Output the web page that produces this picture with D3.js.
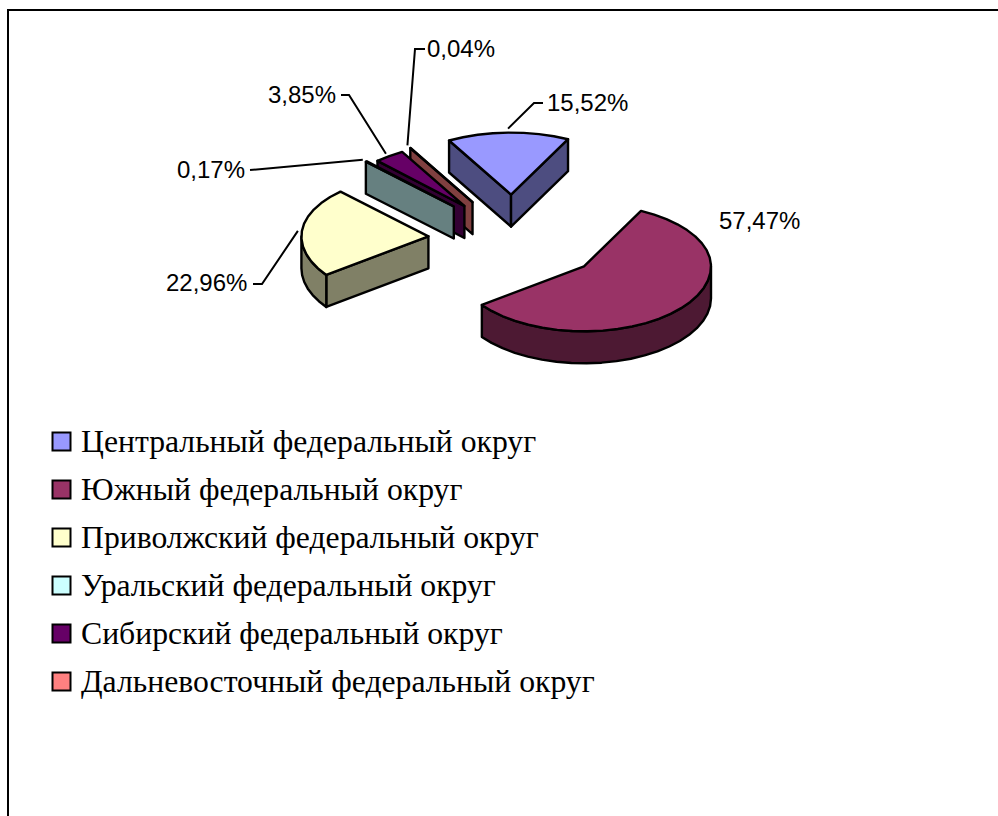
<!DOCTYPE html>
<html>
<head>
<meta charset="utf-8">
<script src="https://cdn.jsdelivr.net/npm/d3@7"></script>
<style>
  html, body { margin: 0; padding: 0; background: #fff; overflow: hidden; }
</style>
</head>
<body>
<svg id="chart" width="998" height="816"></svg>
<script>
const categories = [
    'Центральный федеральный округ',
    'Южный федеральный округ',
    'Приволжский федеральный округ',
    'Уральский федеральный округ',
    'Сибирский федеральный округ',
    'Дальневосточный федеральный округ'
];
const shares = [15.52, 57.47, 22.96, 0.17, 3.85, 0.04];
const shareLabels = ['15,52%', '57,47%', '22,96%', '0,17%', '3,85%', '0,04%'];
const topColors = ['#9999ff', '#993366', '#ffffcc', '#ccffff', '#660066', '#ff8080'];
const sideColors = ['#4d4d80', '#4d1933', '#808066', '#668080', '#330033', '#804040'];

const svg = d3.select('#chart');

// Pie geometry (Excel style tilted pie, exploded)
const center = { x: 514, y: 238 };
const rx = 127, ryFar = 62, ryNear = 65, depth = 32, explode = 0.7;
const firstAngle = -29.2 * Math.PI / 180;
// small corrections for the perspective Excel applies to each exploded slice
const nudge = [[-1, 0], [2, -1], [3, 2], [1, 0], [3, 3], [2, 2]];

const pie = d3.pie().sort(null).startAngle(firstAngle).endAngle(firstAngle + 2 * Math.PI);
const slices = pie(shares);

function project(angle, radius) {
    const c = Math.cos(angle);
    return [rx * radius * Math.sin(angle), -(c > 0 ? ryFar : ryNear) * radius * c];
}

function rimPoints(a0, a1) {
    const n = Math.max(1, Math.ceil((a1 - a0) / (7 * Math.PI / 180)));
    return d3.range(n + 1).map(i => a0 + (a1 - a0) * i / n);
}

const poly = d3.line();

slices.forEach((d, i) => {
    const mid = (d.startAngle + d.endAngle) / 2;
    const off = project(mid, explode);
    d.apex = [center.x + off[0] + nudge[i][0], center.y + off[1] + nudge[i][1]];
    d.mid = mid;
    d.at = (a, dy = 0) => {
        const p = project(a, 1);
        return [d.apex[0] + p[0], d.apex[1] + p[1] + dy];
    };
});

// back to front
const drawOrder = [5, 4, 3, 0, 2, 1];
const pieG = svg.append('g')
    .attr('stroke', '#000')
    .attr('stroke-width', 2.4)
    .attr('stroke-linejoin', 'round');

drawOrder.forEach(i => {
    const d = slices[i];
    const g = pieG.append('g');
    const base = [d.apex[0], d.apex[1] + depth];

    // radial walls, only the ones facing the viewer
    if (Math.sin(d.startAngle) < 0) {
        g.append('path').attr('fill', sideColors[i])
            .attr('d', poly([d.apex, d.at(d.startAngle), d.at(d.startAngle, depth), base]) + 'Z');
    }
    if (Math.sin(d.endAngle) > 0) {
        g.append('path').attr('fill', sideColors[i])
            .attr('d', poly([d.apex, d.at(d.endAngle), d.at(d.endAngle, depth), base]) + 'Z');
    }

    // outer wall, front half of the rim
    const wa0 = Math.max(d.startAngle, Math.PI / 2);
    const wa1 = Math.min(d.endAngle, 3 * Math.PI / 2);
    if (wa1 > wa0) {
        const angles = rimPoints(wa0, wa1);
        const wall = angles.map(a => d.at(a)).concat(angles.slice().reverse().map(a => d.at(a, depth)));
        g.append('path').attr('fill', sideColors[i]).attr('d', poly(wall) + 'Z');
    }

    // top face
    const top = [d.apex].concat(rimPoints(d.startAngle, d.endAngle).map(a => d.at(a)));
    g.append('path').attr('fill', topColors[i]).attr('d', poly(top) + 'Z');
});

// Data labels: text position and leader elbow for each slice
const labelLayout = [
    { x: 547, y: 111, elbow: [[534, 103], [543, 103]] },
    { x: 719, y: 229, elbow: null },
    { x: 166, y: 291, elbow: [[262, 284], [253, 284]] },
    { x: 177, y: 178, elbow: [[250, 170]] },
    { x: 268, y: 103, elbow: [[349, 95], [341, 95]] },
    { x: 427, y: 57, elbow: [[415, 49], [425, 49]] }
];

slices.forEach((d, i) => {
    const lay = labelLayout[i];
    if (lay.elbow) {
        const p = project(d.mid, 1);
        const len = Math.hypot(p[0], p[1]);
        const start = [d.apex[0] + p[0] * (1 + 4 / len), d.apex[1] + p[1] * (1 + 4 / len)];
        svg.append('path')
            .attr('fill', 'none')
            .attr('stroke', '#000')
            .attr('stroke-width', 2)
            .attr('d', poly([start].concat(lay.elbow)));
    }
    svg.append('text')
        .attr('x', lay.x)
        .attr('y', lay.y)
        .attr('font-family', '"Liberation Sans", Arial, sans-serif')
        .attr('font-size', '24px')
        .attr('fill', '#000')
        .text(shareLabels[i]);
});

// Legend
const legendY = d3.scalePoint()
    .domain(categories)
    .range([442, 682]);

const legend = svg.append('g').selectAll('g')
    .data(categories)
    .join('g')
    .attr('transform', d => `translate(0,${legendY(d)})`);

legend.append('rect')
    .attr('x', 52.5)
    .attr('y', -9.5)
    .attr('width', 18)
    .attr('height', 18)
    .attr('fill', (d, i) => topColors[i])
    .attr('stroke', '#000')
    .attr('stroke-width', 2);

legend.append('text')
    .attr('x', 81)
    .attr('y', 10)
    .attr('font-family', '"Liberation Serif", "Times New Roman", serif')
    .attr('font-size', '31.7px')
    .attr('fill', '#000')
    .text(d => d);

// Chart frame, runs off the right and bottom of the picture
svg.append('rect')
    .attr('x', 8)
    .attr('y', 10)
    .attr('width', 1100)
    .attr('height', 900)
    .attr('fill', 'none')
    .attr('stroke', '#000')
    .attr('stroke-width', 2);
</script>
</body>
</html>
